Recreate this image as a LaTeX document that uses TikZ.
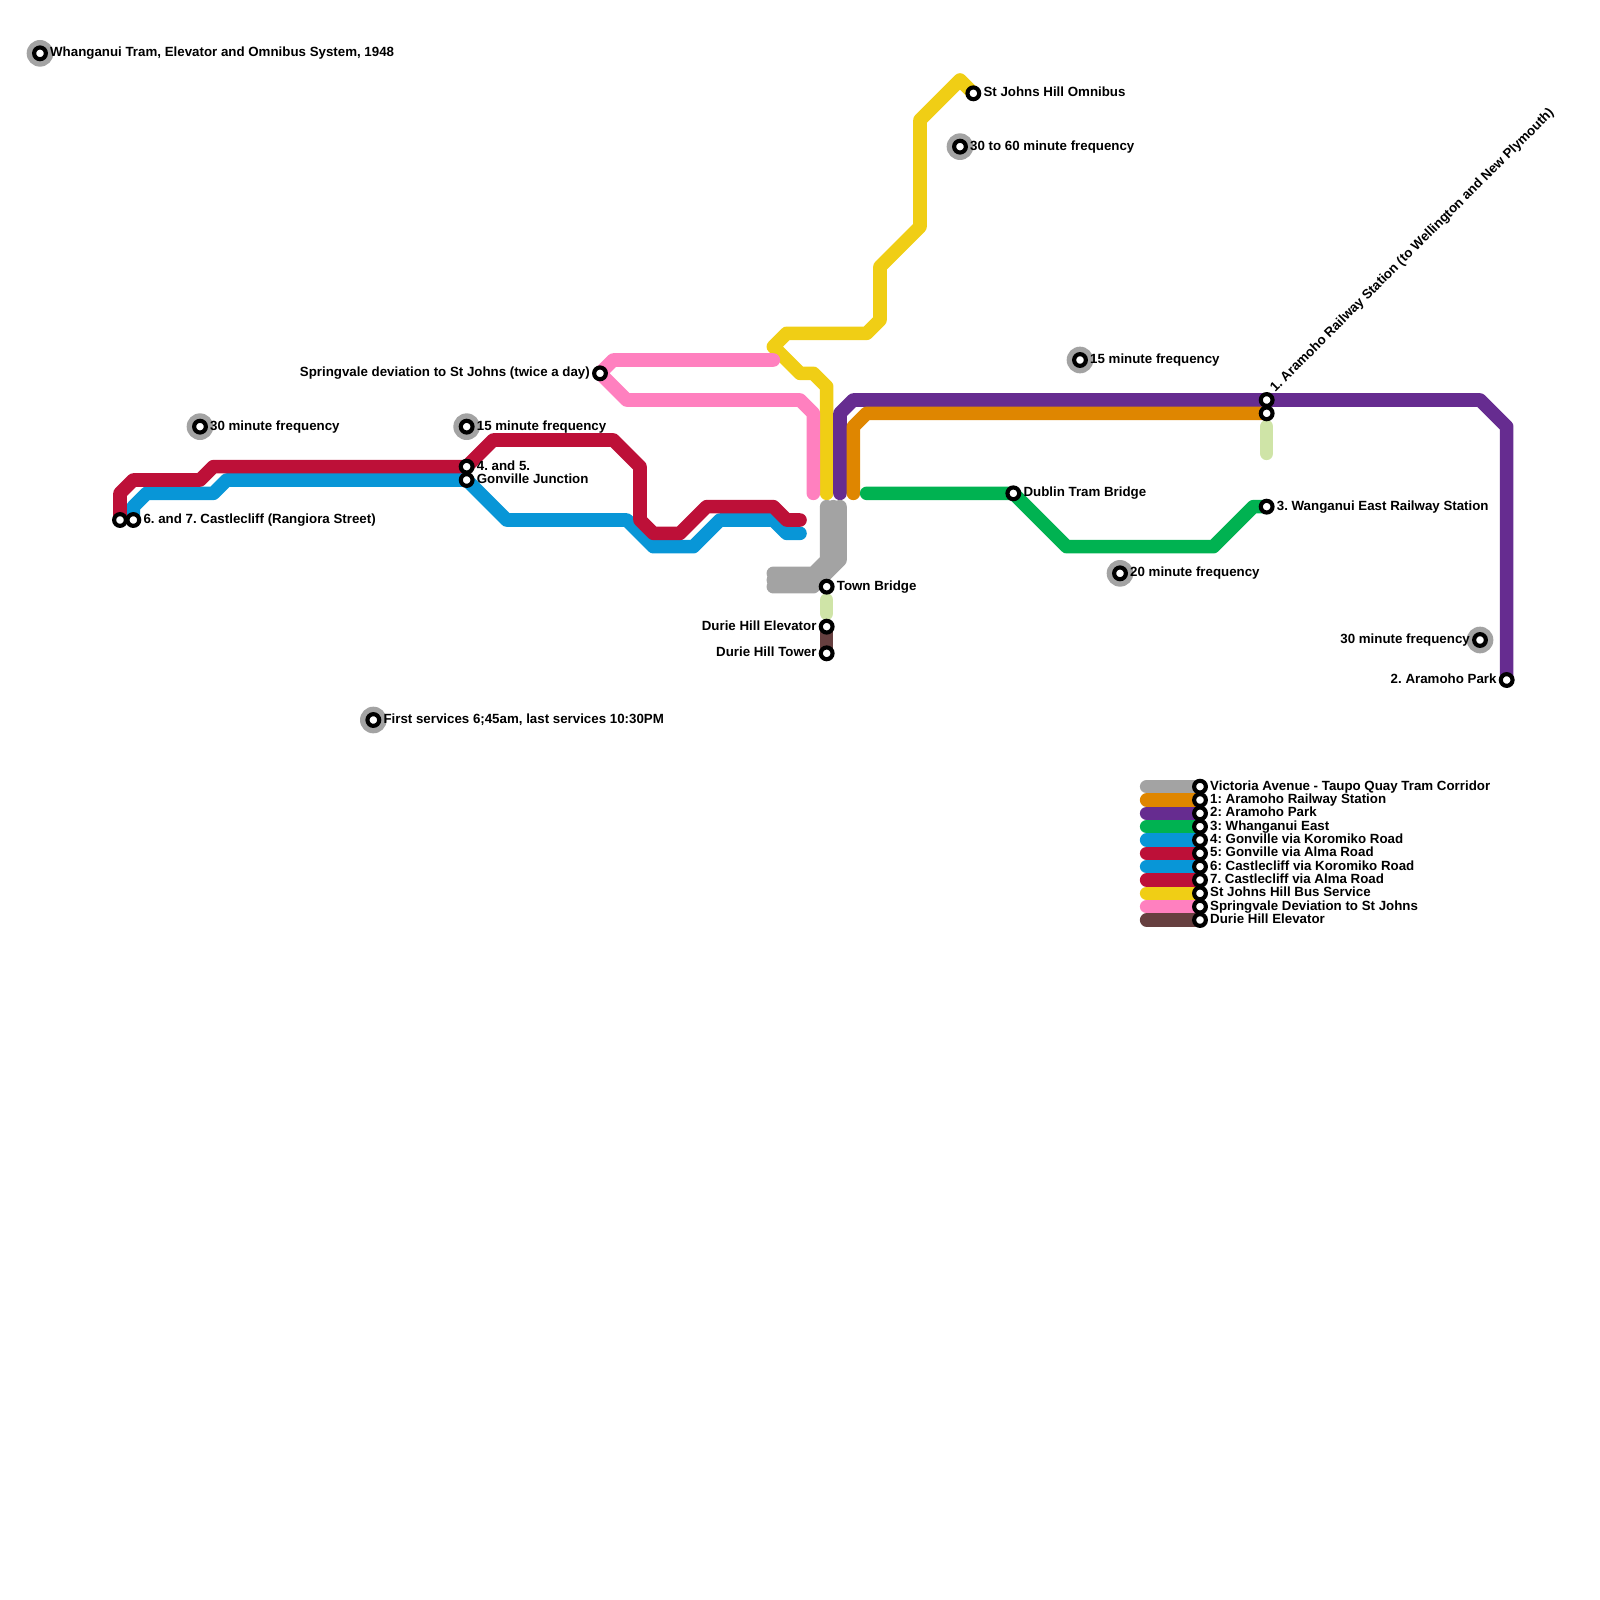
\documentclass[tikz,border=0pt]{standalone}
\usepackage{fontspec}
\setmainfont{Liberation Sans}
\usepackage{tikz}
\usetikzlibrary{
  positioning,
  backgrounds
}
\definecolor{tramgray}{HTML}{A3A3A3}
\definecolor{lineorange}{HTML}{DF8600}
\definecolor{linepurple}{HTML}{662C90}
\definecolor{linegreen}{HTML}{00B251}
\definecolor{lineblue}{HTML}{0896D7}
\definecolor{linered}{HTML}{BD1038}
\definecolor{lineyellow}{HTML}{F0CE15}
\definecolor{linepink}{HTML}{FF80BF}
\definecolor{linebrown}{HTML}{663F3F}
\definecolor{linepale}{HTML}{CFE4A7}
\tikzset{route/.style={line width=0.255cm, line cap=round, line join=round}}
\tikzset{stn/.style={circle, draw=black, fill=white, line width=2.2pt, inner sep=0pt, minimum size=0.22cm}}
\tikzset{lbl/.style={font=\bfseries\fontsize{7.1}{8}\selectfont\frenchspacing, inner sep=0pt, text height=5.2pt, text depth=1.5pt}}

\begin{document}
\begin{tikzpicture}[x=0.25cm, y=-0.25cm]
  \useasboundingbox (0,0) rectangle (120,120);
  % stations
  \node[stn] (sTitle) at (3,4) {};
  \node[stn] (sHill) at (73,7) {};
  \node[stn] (sSixty) at (72,11) {};
  \node[stn] (sFifteenE) at (81,27) {};
  \node[stn] (sSpring) at (45,28) {};
  \node[stn] (sRailA) at (95,30) {};
  \node[stn] (sRailB) at (95,31) {};
  \node[stn] (sThirtyW) at (15,32) {};
  \node[stn] (sFifteenW) at (35,32) {};
  \node[stn] (sGonA) at (35,35) {};
  \node[stn] (sGonB) at (35,36) {};
  \node[stn] (sDublin) at (76,37) {};
  \node[stn] (sEast) at (95,38) {};
  \node[stn] (sCastleA) at (9,39) {};
  \node[stn] (sCastleB) at (10,39) {};
  \node[stn] (sTwenty) at (84,43) {};
  \node[stn] (sTown) at (62,44) {};
  \node[stn] (sElev) at (62,47) {};
  \node[stn] (sThirtyE) at (111,48) {};
  \node[stn] (sTower) at (62,49) {};
  \node[stn] (sPark) at (113,51) {};
  \node[stn] (sFirst) at (28,54) {};
  % labels
  \node[lbl, right=1pt of sTitle] (tTitle) {Whanganui Tram, Elevator and Omnibus System, 1948};
  \node[lbl, right=1pt of sHill] (tHill) {St Johns Hill Omnibus};
  \node[lbl, right=1pt of sSixty] (tSixty) {30 to 60 minute frequency};
  \node[lbl, right=1pt of sFifteenE] (tFifteenE) {15 minute frequency};
  \node[lbl, left=1pt of sSpring] (tSpring) {Springvale deviation to St Johns (twice a day)};
  \node[lbl, rotate=45, anchor=west] (tRail) at ([xshift=0.11cm, yshift=0.18cm]sRailA) {1. Aramoho Railway Station (to Wellington and New Plymouth)};
  \node[lbl, right=1pt of sThirtyW] (tThirtyW) {30 minute frequency};
  \node[lbl, right=1pt of sFifteenW] (tFifteenW) {15 minute frequency};
  \node[lbl, right=1pt of sGonA] (tGonA) {4. and 5.};
  \node[lbl, right=1pt of sGonB] (tGonB) {Gonville Junction};
  \node[lbl, right=1pt of sDublin] (tDublin) {Dublin Tram Bridge};
  \node[lbl, right=1pt of sEast] (tEast) {3. Wanganui East Railway Station};
  \node[lbl, right=1pt of sCastleB] (tCastle) {6. and 7. Castlecliff (Rangiora Street)};
  \node[lbl, right=1pt of sTwenty] (tTwenty) {20 minute frequency};
  \node[lbl, right=1pt of sTown] (tTown) {Town Bridge};
  \node[lbl, left=1pt of sElev] (tElev) {Durie Hill Elevator};
  \node[lbl, left=1pt of sThirtyE] (tThirtyE) {30 minute frequency};
  \node[lbl, left=1pt of sTower] (tTower) {Durie Hill Tower};
  \node[lbl, left=1pt of sPark] (tPark) {2. Aramoho Park};
  \node[lbl, right=1pt of sFirst] (tFirst) {First services 6;45am, last services 10:30PM};
  % free ends
  \coordinate (blueEnd) at (60,40);
  \coordinate (redEnd) at (60,39);
  \coordinate (pinkEnd) at (58,27);
  \coordinate (pinkFoot) at (61,37);
  \coordinate (yellowFoot) at (62,37);
  \coordinate (purpleFoot) at (63,37);
  \coordinate (orangeFoot) at (64,37);
  \coordinate (greenFoot) at (65,37);
  \coordinate (grayTopA) at (63,38);
  \coordinate (grayTopB) at (62,38);
  \coordinate (grayTopC) at (62.5,38);
  \coordinate (grayEndA) at (58,44);
  \coordinate (grayEndB) at (58,43);
  \coordinate (grayEndC) at (58,43.5);
  \coordinate (paleTown) at (62,45);
  \coordinate (paleElev) at (62,46);
  \coordinate (paleRailA) at (95,32);
  \coordinate (paleRailB) at (95,34);
  \begin{pgfonlayer}{background}
    \foreach \s in {sTitle,sSixty,sFifteenE,sThirtyW,sFifteenW,sTwenty,sThirtyE,sFirst}
      \fill[tramgray] (\s) circle (1);
    \draw[route, draw=lineblue] (sCastleB.center) -- (10,38) -- (11,37) -- (16,37) -- (17,36) -- (sGonB.center)
      -- (38,39) -- (47,39) -- (49,41) -- (52,41) -- (54,39) -- (58,39) -- (59,40) -- (blueEnd);
    \draw[route, draw=linered] (sCastleA.center) -- (9,37) -- (10,36) -- (15,36) -- (16,35) -- (sGonA.center)
      -- (37,33) -- (46,33) -- (48,35) -- (48,39) -- (49,40) -- (51,40) -- (53,38) -- (58,38) -- (59,39) -- (redEnd);
    \draw[route, draw=lineyellow] (yellowFoot) -- (62,29) -- (61,28) -- (60,28) -- (58,26) -- (59,25) -- (65,25)
      -- (66,24) -- (66,20) -- (69,17) -- (69,9) -- (72,6) -- (sHill.center);
    \draw[route, draw=linepink] (pinkEnd) -- (46,27) -- (sSpring.center) -- (47,30) -- (60,30) -- (61,31) -- (pinkFoot);
    \draw[route, draw=linepurple] (purpleFoot) -- (63,31) -- (64,30) -- (sRailA.center) -- (111,30) -- (113,32) -- (sPark.center);
    \draw[route, draw=lineorange] (orangeFoot) -- (64,32) -- (65,31) -- (sRailB.center);
    \draw[route, draw=linegreen] (greenFoot) -- (sDublin.center) -- (80,41) -- (91,41) -- (94,38) -- (sEast.center);
    \draw[route, draw=tramgray] (grayTopA) -- (63,42) -- (61,44) -- (grayEndA);
    \draw[route, draw=tramgray] (grayTopB) -- (62,42) -- (61,43) -- (grayEndB);
    \draw[route, draw=tramgray] (grayTopC) -- (62.5,42) -- (61,43.5) -- (grayEndC);
    \draw[route, draw=linepale] (paleTown) -- (paleElev);
    \draw[route, draw=linepale] (paleRailA) -- (paleRailB);
    \draw[route, draw=linebrown] (sElev.center) -- (sTower.center);
  \end{pgfonlayer}
  % key
  \foreach \i/\c/\t in {59/tramgray/{Victoria Avenue - Taupo Quay Tram Corridor},
      60/lineorange/{1: Aramoho Railway Station},
      61/linepurple/{2: Aramoho Park},
      62/linegreen/{3: Whanganui East},
      63/lineblue/{4: Gonville via Koromiko Road},
      64/linered/{5: Gonville via Alma Road},
      65/lineblue/{6: Castlecliff via Koromiko Road},
      66/linered/{7. Castlecliff via Alma Road},
      67/lineyellow/{St Johns Hill Bus Service},
      68/linepink/{Springvale Deviation to St Johns},
      69/linebrown/{Durie Hill Elevator}} {
    \node[stn] (key\i) at (90,\i) {};
    \node[lbl, right=1pt of key\i] (keytext\i) {\t};
    \coordinate (keyend\i) at (86,\i);
    \begin{pgfonlayer}{background}
      \draw[route, draw=\c] (keyend\i) -- (key\i.center);
    \end{pgfonlayer}
  }
\end{tikzpicture}
\end{document}
